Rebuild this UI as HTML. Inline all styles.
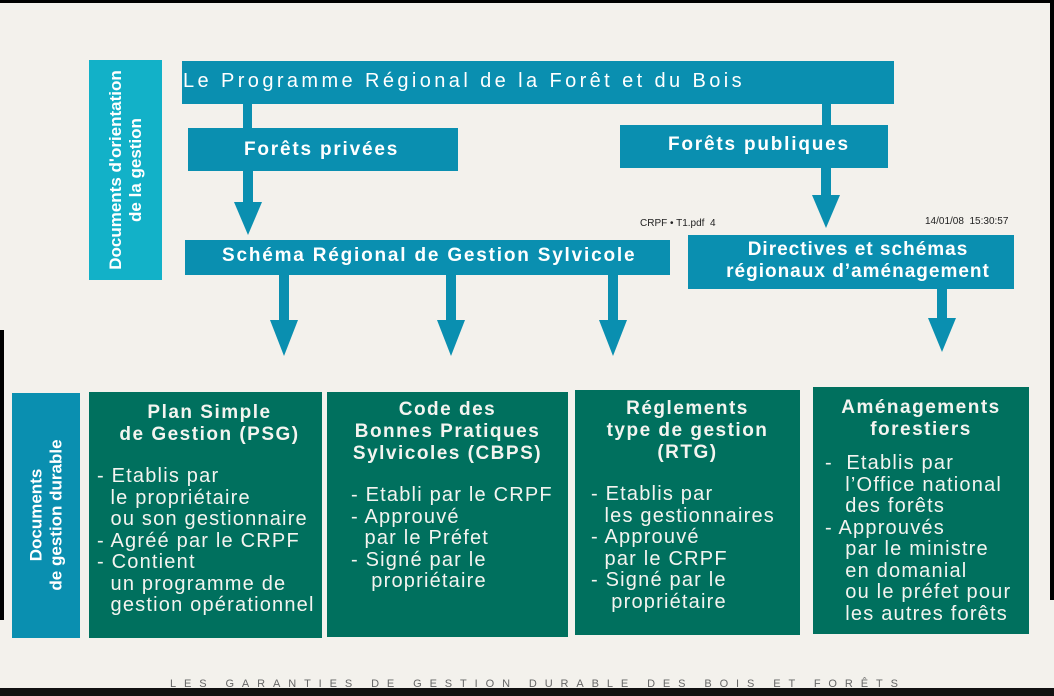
<!DOCTYPE html>
<html><head><meta charset="utf-8"><style>
body{margin:0;width:1054px;height:696px;overflow:hidden;background:#f3f1ec;position:relative;font-family:"Liberation Sans",sans-serif}
.b{position:absolute;background:#0a8fb0;color:#fff;font-weight:bold;box-sizing:border-box;white-space:nowrap;letter-spacing:1.8px}
.g{position:absolute;background:#00705e;color:#f4f4f0;font-size:20px;letter-spacing:1.2px;line-height:21.5px;box-sizing:border-box;white-space:nowrap}
.g h{display:block;text-align:center;font-weight:bold;font-size:19px;letter-spacing:1.5px;line-height:22px;margin-bottom:20px}
.a{position:absolute;background:#0a8fb0}
.t{position:absolute;width:0;height:0;border-left:14px solid transparent;border-right:14px solid transparent;border-top:36px solid #0a8fb0}
.v{position:absolute;color:#fff;font-weight:bold;font-size:17px;line-height:20px;text-align:center;white-space:nowrap;transform:rotate(-90deg)}
</style></head><body>
<div style="position:absolute;left:0;top:0;width:1054px;height:3px;background:#000"></div>
<div style="position:absolute;left:0;top:688px;width:1054px;height:8px;background:#111"></div>
<div style="position:absolute;left:1050px;top:0;width:4px;height:600px;background:#000"></div>
<div style="position:absolute;left:0;top:330px;width:4px;height:290px;background:#000"></div>

<div class="b" style="left:89px;top:60px;width:73px;height:220px;background:#12b1c8"></div>
<div class="v" style="left:16px;top:150px;width:220px;height:40px;letter-spacing:0">Documents d'orientation<br>de la gestion</div>
<div class="b" style="left:182px;top:61px;width:712px;height:43px;font-weight:normal;font-size:20px;letter-spacing:3.4px;padding:9px 0 0 1px">Le Programme Régional de la Forêt et du Bois</div>
<div class="a" style="left:243px;top:103px;width:9px;height:26px"></div>
<div class="a" style="left:822px;top:103px;width:9px;height:24px"></div>
<div class="b" style="left:188px;top:128px;width:270px;height:43px;font-size:19px;padding:11px 0 0 56px">Forêts privées</div>
<div class="b" style="left:620px;top:125px;width:268px;height:43px;font-size:19px;padding:9px 0 0 48px">Forêts publiques</div>
<div class="a" style="left:243px;top:170px;width:10px;height:36px"></div>
<div class="t" style="left:234px;top:202px;border-top-width:33px"></div>
<div class="a" style="left:821px;top:167px;width:10px;height:30px"></div>
<div class="t" style="left:812px;top:195px;border-top-width:33px"></div>
<div style="position:absolute;left:640px;top:218px;font-size:10px;color:#222">CRPF • T1.pdf&nbsp; 4</div>
<div style="position:absolute;left:925px;top:216px;font-size:10px;color:#222">14/01/08&nbsp; 15:30:57</div>
<div class="b" style="left:185px;top:240px;width:485px;height:35px;font-size:19px;padding:5px 0 0 37px">Schéma Régional de Gestion Sylvicole</div>
<div class="b" style="left:688px;top:235px;width:326px;height:54px;font-size:19px;letter-spacing:1px;line-height:22px;text-align:center;padding-top:4px;padding-left:14px">Directives et schémas<br>régionaux d’aménagement</div>
<div class="a" style="left:279px;top:274px;width:10px;height:48px"></div><div class="t" style="left:270px;top:320px"></div>
<div class="a" style="left:446px;top:274px;width:10px;height:48px"></div><div class="t" style="left:437px;top:320px"></div>
<div class="a" style="left:608px;top:274px;width:10px;height:48px"></div><div class="t" style="left:599px;top:320px"></div>
<div class="a" style="left:937px;top:288px;width:10px;height:32px"></div><div class="t" style="left:928px;top:318px;border-top-width:34px"></div>

<div class="b" style="left:12px;top:393px;width:68px;height:245px"></div>
<div class="v" style="left:-76px;top:495px;width:245px;height:40px;letter-spacing:0">Documents<br>de gestion durable</div>
<div class="g" style="left:89px;top:392px;width:233px;height:246px;padding:10px 0 0 8px"><h style="margin-right:0">Plan Simple<br>de Gestion (PSG)</h>- Etablis par<br>&nbsp; le propriétaire<br>&nbsp; ou son gestionnaire<br>- Agréé par le CRPF<br>- Contient<br>&nbsp; un programme de<br>&nbsp; gestion opérationnel</div>
<div class="g" style="left:327px;top:392px;width:241px;height:245px;padding:7px 0 0 24px"><h style="margin-right:24px;margin-bottom:20px">Code des<br>Bonnes Pratiques<br>Sylvicoles (CBPS)</h>- Etabli par le CRPF<br>- Approuvé<br>&nbsp; par le Préfet<br>- Signé par le<br>&nbsp;&nbsp; propriétaire</div>
<div class="g" style="left:575px;top:390px;width:225px;height:245px;padding:8px 0 0 16px"><h style="margin-right:16px">Réglements<br>type de gestion<br>(RTG)</h>- Etablis par<br>&nbsp; les gestionnaires<br>- Approuvé<br>&nbsp; par le CRPF<br>- Signé par le<br>&nbsp;&nbsp; propriétaire</div>
<div class="g" style="left:813px;top:387px;width:216px;height:247px;padding:10px 0 0 12px"><h style="margin-right:12px;margin-bottom:12px">Aménagements<br>forestiers</h>-&nbsp; Etablis par<br>&nbsp;&nbsp; l’Office national<br>&nbsp;&nbsp; des forêts<br>- Approuvés<br>&nbsp;&nbsp; par le ministre<br>&nbsp;&nbsp; en domanial<br>&nbsp;&nbsp; ou le préfet pour<br>&nbsp;&nbsp; les autres forêts</div>
<div style="position:absolute;left:170px;top:678px;font-size:11px;letter-spacing:7.9px;color:#666;white-space:nowrap">LES GARANTIES DE GESTION DURABLE DES BOIS ET FORÊTS</div>
</body></html>
